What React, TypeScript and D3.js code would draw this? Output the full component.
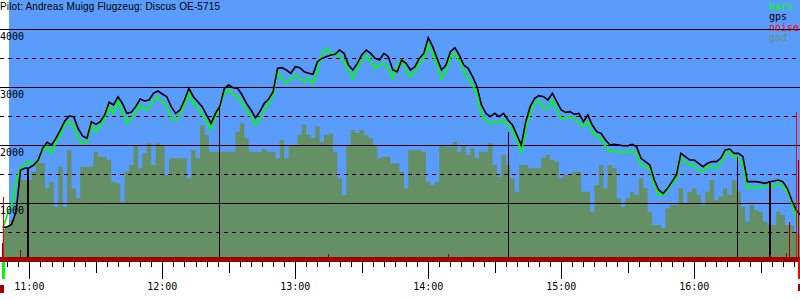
import React from "react";
import * as d3 from "d3";

const title = "Pilot: Andreas Muigg Flugzeug: Discus OE-5715";
const legendNames = ["baro", "gps", "noise", "gnd"];

const domainStart = "10:46:45";
const domainEnd = "16:47:45";
const sampleStart = "10:48:00";
const sampleStepMinutes = 2;

const gpsAlt = [
  575, 592, 632, 851, 1569, 1598, 1609, 1655, 1741, 1943, 2046, 2000, 2115, 2259, 2414, 2500, 2489, 2287, 2155, 2115, 2402, 2356, 2402, 2517, 2736, 2690, 2833, 2718, 2546, 2563, 2661, 2793, 2759, 2776, 2891, 2931, 2879,
  2833, 2661, 2546, 2603, 2776, 2977, 2833, 2747, 2661, 2517, 2374, 2546, 2672, 2977, 3034, 2988, 2977, 2862, 2718, 2603, 2471, 2575, 2718, 2793, 2920, 3322, 3333, 3293, 3236, 3350, 3333, 3264, 3236, 3218, 3437, 3494,
  3523, 3552, 3563, 3638, 3580, 3379, 3293, 3408, 3552, 3638, 3580, 3494, 3465, 3580, 3523, 3293, 3264, 3465, 3408, 3293, 3350, 3494, 3580, 3850, 3695, 3494, 3293, 3379, 3609, 3678, 3552, 3379, 3322, 3178, 3006, 2690,
  2546, 2489, 2546, 2489, 2546, 2431, 2345, 2172, 2000, 2402, 2661, 2805, 2851, 2833, 2776, 2891, 2747, 2603, 2563, 2575, 2529, 2546, 2402, 2517, 2345, 2230, 2201, 2086, 2000, 2011, 2000, 1988, 1988, 2011, 1971, 1770,
  1713, 1655, 1397, 1224, 1167, 1253, 1368, 1483, 1856, 1799, 1741, 1741, 1684, 1626, 1684, 1713, 1713, 1770, 1914, 1931, 1856, 1856, 1799, 1368, 1368, 1368, 1356, 1339, 1368, 1379, 1397, 1368, 1253, 1052, 879, 793,
];

const baroAlt = [
  563, 793, 966, 1368, 1598, 1667, 1713, 1667, 1713, 1914, 1971, 1856, 2057, 2172, 2345, 2402, 2345, 2115, 2029, 2057, 2345, 2230, 2345, 2460, 2661, 2546, 2747, 2575, 2374, 2460, 2575, 2690, 2603, 2632, 2776, 2833, 2747,
  2661, 2460, 2431, 2517, 2701, 2891, 2718, 2644, 2517, 2402, 2276, 2489, 2661, 2891, 2948, 2862, 2833, 2718, 2603, 2489, 2345, 2460, 2603, 2718, 2862, 3264, 3149, 3063, 3149, 3207, 3149, 3092, 3149, 3063, 3264, 3563,
  3667, 3580, 3580, 3523, 3465, 3264, 3149, 3322, 3465, 3552, 3465, 3322, 3379, 3408, 3322, 3149, 3350, 3465, 3264, 3178, 3264, 3408, 3494, 3724, 3580, 3379, 3149, 3264, 3523, 3580, 3437, 3293, 3149, 3034, 2862, 2517,
  2431, 2374, 2402, 2374, 2431, 2345, 2259, 2086, 1885, 2287, 2546, 2718, 2759, 2632, 2632, 2776, 2603, 2460, 2460, 2489, 2431, 2402, 2316, 2402, 2230, 2144, 2115, 1971, 1885, 1897, 1874, 1885, 1874, 1897, 1856, 1655,
  1626, 1598, 1310, 1138, 1138, 1224, 1339, 1425, 1770, 1713, 1655, 1655, 1569, 1540, 1626, 1626, 1598, 1684, 1856, 1885, 1799, 1770, 1684, 1253, 1282, 1253, 1282, 1282, 1310, 1282, 1339, 1282, 1195, 1023, 764, 563,
];

const gndAlt = [
  552, 592, 707, 937, 1397, 1397, 1397, 1540, 1684, 1684, 1253, 1368, 937, 1626, 937, 1914, 1253, 1080, 1626, 1626, 1626, 1885, 1799, 1799, 1741, 1368, 1339, 1023, 1540, 1655, 2000, 1598, 1856, 2029, 1655, 2029, 2000,
  1483, 1770, 1770, 1770, 1770, 1425, 1914, 1770, 2345, 2172, 1885, 1885, 1885, 1885, 1885, 1885, 2230, 2374, 2115, 1885, 1885, 1885, 1931, 1885, 1885, 1770, 2086, 1770, 2000, 2000, 2172, 2345, 2172, 2115, 2316, 2057,
  2172, 2201, 1885, 1425, 1138, 2000, 2259, 2201, 2259, 2172, 2115, 2000, 1770, 1799, 1799, 1684, 1684, 1540, 1253, 1914, 1914, 1914, 1885, 1368, 1310, 1368, 2000, 1971, 1971, 2057, 1885, 2000, 1827, 1943, 1770, 1885,
  1885, 2029, 1655, 1454, 1827, 1655, 1425, 1195, 1655, 1655, 1598, 1598, 1598, 1770, 1827, 1741, 1713, 1425, 1483, 1483, 1540, 1540, 1195, 1195, 851, 1310, 1655, 1253, 1655, 1598, 1080, 937, 1080, 1195, 1138, 1425,
  1253, 851, 621, 621, 563, 908, 966, 966, 1253, 994, 1195, 1253, 1138, 966, 1195, 1397, 1052, 1109, 1253, 1138, 1397, 1195, 937, 678, 966, 879, 851, 678, 621, 621, 851, 793, 621, 621, 506, 448,
];

const markerTimes = ["10:58:55", "12:25:35", "14:36:05", "16:19:25", "16:33:55"];
const markerAlt = [1603, 2655, 2224, 1793, 1362];

const noiseTimes = ["10:47:58", "16:46:09"];
const noiseLevels = [1103, 2569];
const noiseLowTimes = ["10:47:50", "10:55:48", "13:14:45", "14:08:57", "16:34:12", "16:41:27", "16:42:45", "16:46:51"];
const noiseLowLevels = [310, 190, 120, 120, 120, 138, 672, 1741];

const takeoffTime = "10:48:14";
const landingTime = "16:47:20";

const yMajor = [1000, 2000, 3000, 4000];
const yMinor = [500, 1500, 2500, 3500];
const hourLabels = ["11:00", "12:00", "13:00", "14:00", "15:00", "16:00"];

const W = 800;
const H = 300;
const SKY = "#5a9cfb";
const GND = "#658f65";
const DARKRED = "#a00000";
const MONO = "'DejaVu Sans Mono', monospace";

export default function App() {
  const parse = d3.timeParse("%H:%M:%S");
  const parseHM = d3.timeParse("%H:%M");
  const x = d3.scaleTime().domain([parse(domainStart)!, parse(domainEnd)!]).range([0, W]);
  const y = d3.scaleLinear().domain([0, 4500]).range([261, 0]);

  const t0 = parse(sampleStart)!;
  const times = gpsAlt.map((_, i) => d3.timeMinute.offset(t0, i * sampleStepMinutes));

  const line = d3
    .line<number>()
    .x((_, i) => x(times[i]))
    .y((d) => y(d));
  const area = d3
    .area<number>()
    .x((_, i) => x(times[i]))
    .y0(y(0))
    .y1((d) => y(d))
    .curve(d3.curveStep);

  const ticks = x.ticks(d3.timeMinute.every(5)!);
  const bandTop = 257;

  const legendColors = ["#00ff00", "#000000", "#ff0000", "#6b8f6b"];
  const legendBaselines = [10, 20, 30.5, 40.5];

  return (
    <svg
      width={W}
      height={H}
      style={{ position: "absolute", left: 0, top: 0, background: "#fff" }}
    >
      <rect x={9} y={0} width={W - 9} height={bandTop} fill={SKY} />
      <path d={area(gndAlt) || ""} fill={GND} />

      {yMajor.map((v) => (
        <line key={"M" + v} x1={0} x2={W} y1={Math.round(y(v)) + 0.5} y2={Math.round(y(v)) + 0.5} stroke="#000" strokeWidth={1} shapeRendering="crispEdges" />
      ))}
      {yMinor.map((v) => (
        <line key={"m" + v} x1={0} x2={W} y1={Math.round(y(v)) + 0.5} y2={Math.round(y(v)) + 0.5} stroke="#000" strokeWidth={1} strokeDasharray="4,4" shapeRendering="crispEdges" />
      ))}

      <path d={line(baroAlt) || ""} fill="none" stroke="#00ff00" strokeWidth={1.8} strokeLinejoin="miter" />
      <path d={line(gpsAlt) || ""} fill="none" stroke="#000" strokeWidth={1.6} strokeLinejoin="miter" />

      {markerTimes.map((t, i) => {
        const xx = Math.round(x(parse(t)!)) + 0.5;
        const thick = i === 0 || i === 4;
        return (
          <line key={"mk" + i} x1={xx} x2={xx} y1={y(markerAlt[i])} y2={bandTop} stroke="#000" strokeWidth={thick ? 2 : 1} shapeRendering="crispEdges" />
        );
      })}

      {noiseTimes.map((t, i) => {
        const xx = Math.round(x(parse(t)!)) + 0.5;
        return <line key={"n" + i} x1={xx} x2={xx} y1={y(noiseLevels[i])} y2={bandTop} stroke="#ff0000" strokeWidth={1.5} shapeRendering="crispEdges" />;
      })}
      {noiseLowTimes.map((t, i) => {
        const xx = Math.round(x(parse(t)!)) + 0.5;
        return <line key={"nl" + i} x1={xx} x2={xx} y1={y(noiseLowLevels[i])} y2={bandTop} stroke={DARKRED} strokeWidth={1.5} shapeRendering="crispEdges" />;
      })}

      <rect x={0} y={bandTop} width={W} height={5} fill={DARKRED} />

      {ticks.map((t, i) => {
        const m = t.getMinutes();
        const len = m === 0 ? 17 : m === 30 ? 11 : 5;
        const xx = Math.round(x(t)) + 0.5;
        return <line key={"t" + i} x1={xx} x2={xx} y1={262} y2={262 + len} stroke="#000" strokeWidth={1} shapeRendering="crispEdges" />;
      })}

      {/* takeoff / landing markers */}
      <rect x={Math.round(x(parse(takeoffTime)!)) - 1} y={262} width={3} height={17} fill="#00ff00" />
      <rect x={Math.round(x(parse(takeoffTime)!)) - 3} y={285} width={4} height={8} fill={DARKRED} />
      <rect x={Math.round(x(parse(landingTime)!)) - 1} y={261} width={3} height={18} fill="#ff0000" />
      <rect x={Math.round(x(parse(landingTime)!)) - 1} y={284} width={3} height={7} fill={DARKRED} />

      {hourLabels.map((h) => (
        <text key={h} x={x(parseHM(h)!)} y={289.5} textAnchor="middle" fontFamily={MONO} fontSize={10} fill="#000">
          {h}
        </text>
      ))}

      {yMajor.map((v) => (
        <text key={"yl" + v} x={0} y={Math.round(y(v)) + 11} fontFamily={MONO} fontSize={10} fill="#000">
          {v}
        </text>
      ))}

      {legendNames.map((n, i) => (
        <text key={n} x={769} y={legendBaselines[i]} fontFamily={MONO} fontSize={10} fill={legendColors[i]}>
          {n}
        </text>
      ))}

      <text x={0} y={10} fontFamily="'Liberation Sans', Arial, sans-serif" fontSize={10} fill="#000" textLength={220} lengthAdjust="spacing">
        {title}
      </text>
    </svg>
  );
}
